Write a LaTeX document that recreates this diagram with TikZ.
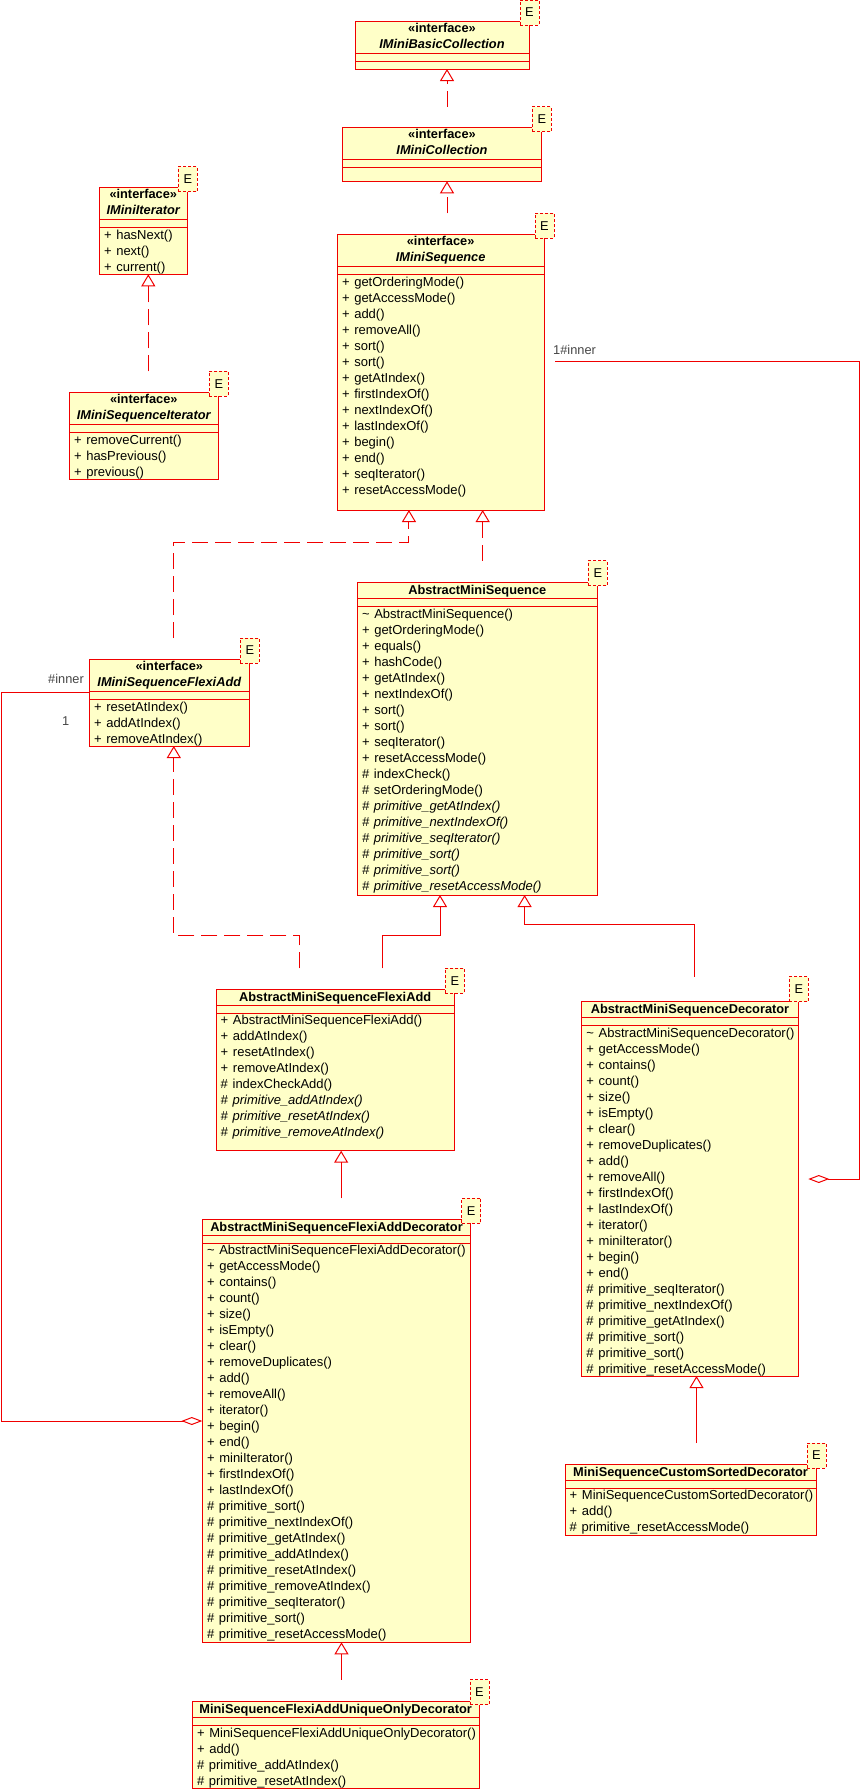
\documentclass[tikz,border=0pt]{standalone}
\usepackage{fontspec}
\setmainfont{Liberation Sans}
\newfontfamily\methfamily[WordSpace=1.3]{Liberation Sans}
\usepackage{tikz}
\usetikzlibrary{positioning,arrows.meta}
\usepackage{xcolor}

\definecolor{umlred}{RGB}{240,0,0}
\definecolor{umlfill}{RGB}{255,255,200}
\definecolor{lblgray}{RGB}{70,70,70}

\tikzset{
  cls/.style={draw=umlred, fill=umlfill, line width=1pt, anchor=north west, inner sep=0pt, outer sep=0pt},
  etag/.style={draw=umlred, fill=umlfill, line width=1pt, dash pattern=on 3pt off 2pt, anchor=south west,
    minimum width=19pt, minimum height=25pt, inner sep=0pt, outer sep=0pt, font=\fontsize{12.8}{15}\selectfont},
  sepline/.style={draw=umlred, line width=1pt},
  stereo/.style={anchor=base, inner sep=0pt, font=\fontsize{12.8}{15}\selectfont\bfseries},
  iname/.style={anchor=base, inner sep=0pt, font=\fontsize{12.8}{15}\selectfont\bfseries\itshape},
  cname/.style={anchor=base, inner sep=0pt, font=\fontsize{12.8}{15}\selectfont\bfseries},
  meth/.style={anchor=base west, inner sep=0pt, font=\methfamily\fontsize{13}{15}\selectfont},
  lbl/.style={anchor=base west, inner sep=0pt, text=lblgray, font=\fontsize{12.8}{15}\selectfont},
  realize/.style={draw=umlred, line width=1pt, dash pattern=on 16pt off 7pt, -{Triangle[open,length=12pt,width=14pt]}},
  inherit/.style={draw=umlred, line width=1pt, -{Triangle[open,length=12pt,width=14pt]}},
  aggr/.style={draw=umlred, line width=1pt, -{Diamond[open,length=21pt,width=8pt]}}
}

\begin{document}
\begin{tikzpicture}[x=1pt,y=-1pt]
\useasboundingbox (0,0) rectangle (861,1789);

% IMiniBasicCollection
\node[cls, minimum width=174pt, minimum height=48pt] (basic) at (355,21) {};
\draw[sepline] ([yshift=-32pt]basic.north west) -- ([yshift=-32pt]basic.north east);
\draw[sepline] ([yshift=-40pt]basic.north west) -- ([yshift=-40pt]basic.north east);
\node[etag] (basicE) at ([xshift=-9pt,yshift=-4pt]basic.north east) {E};
\node[stereo] (basic-st) at ([yshift=-11pt]basic.north) {«interface»};
\node[iname] (basic-nm) at ([yshift=-27pt]basic.north) {IMiniBasicCollection};

% IMiniCollection
\node[cls, minimum width=198.6pt, minimum height=53.6pt] (coll) at (342.7,127.7) {};
\draw[sepline] ([yshift=-32pt]coll.north west) -- ([yshift=-32pt]coll.north east);
\draw[sepline] ([yshift=-40pt]coll.north west) -- ([yshift=-40pt]coll.north east);
\node[etag] (collE) at ([xshift=-9pt,yshift=-4pt]coll.north east) {E};
\node[stereo] (coll-st) at ([yshift=-11pt]coll.north) {«interface»};
\node[iname] (coll-nm) at ([yshift=-27pt]coll.north) {IMiniCollection};

% IMiniIterator
\node[cls, minimum width=88pt, minimum height=86.6pt] (iter) at (99.3,187.7) {};
\draw[sepline] ([yshift=-32pt]iter.north west) -- ([yshift=-32pt]iter.north east);
\draw[sepline] ([yshift=-40pt]iter.north west) -- ([yshift=-40pt]iter.north east);
\node[etag] (iterE) at ([xshift=-9pt,yshift=-4pt]iter.north east) {E};
\node[stereo] (iter-st) at ([yshift=-11pt]iter.north) {«interface»};
\node[iname] (iter-nm) at ([yshift=-27pt]iter.north) {IMiniIterator};
\foreach \m [count=\i] in {+ hasNext(), + next(), + current()}
  \node[meth] (iter-\i) at ([xshift=4.5pt,yshift=-36pt-16pt*\i]iter.north west) {\m};

% IMiniSequenceIterator
\node[cls, minimum width=149pt, minimum height=87pt] (seqiter) at (69.3,392.3) {};
\draw[sepline] ([yshift=-32pt]seqiter.north west) -- ([yshift=-32pt]seqiter.north east);
\draw[sepline] ([yshift=-40pt]seqiter.north west) -- ([yshift=-40pt]seqiter.north east);
\node[etag] (seqiterE) at ([xshift=-9pt,yshift=-4pt]seqiter.north east) {E};
\node[stereo] (seqiter-st) at ([yshift=-11pt]seqiter.north) {«interface»};
\node[iname] (seqiter-nm) at ([yshift=-27pt]seqiter.north) {IMiniSequenceIterator};
\foreach \m [count=\i] in {+ removeCurrent(), + hasPrevious(), + previous()}
  \node[meth] (seqiter-\i) at ([xshift=4.5pt,yshift=-36pt-16pt*\i]seqiter.north west) {\m};

% IMiniSequence
\node[cls, minimum width=206.7pt, minimum height=275.7pt] (seq) at (337.3,234.3) {};
\draw[sepline] ([yshift=-32pt]seq.north west) -- ([yshift=-32pt]seq.north east);
\draw[sepline] ([yshift=-40pt]seq.north west) -- ([yshift=-40pt]seq.north east);
\node[etag] (seqE) at ([xshift=-9pt,yshift=-4pt]seq.north east) {E};
\node[stereo] (seq-st) at ([yshift=-11pt]seq.north) {«interface»};
\node[iname] (seq-nm) at ([yshift=-27pt]seq.north) {IMiniSequence};
\foreach \m [count=\i] in {+ getOrderingMode(), + getAccessMode(), + add(), + removeAll(), + sort(), + sort(),
    + getAtIndex(), + firstIndexOf(), + nextIndexOf(), + lastIndexOf(), + begin(), + end(), + seqIterator(),
    + resetAccessMode()}
  \node[meth] (seq-\i) at ([xshift=4.5pt,yshift=-36pt-16pt*\i]seq.north west) {\m};

% IMiniSequenceFlexiAdd
\node[cls, minimum width=160pt, minimum height=87pt] (flexi) at (89.3,659) {};
\draw[sepline] ([yshift=-32pt]flexi.north west) -- ([yshift=-32pt]flexi.north east);
\draw[sepline] ([yshift=-40pt]flexi.north west) -- ([yshift=-40pt]flexi.north east);
\node[etag] (flexiE) at ([xshift=-9pt,yshift=-4pt]flexi.north east) {E};
\node[stereo] (flexi-st) at ([yshift=-11pt]flexi.north) {«interface»};
\node[iname] (flexi-nm) at ([yshift=-27pt]flexi.north) {IMiniSequenceFlexiAdd};
\foreach \m [count=\i] in {+ resetAtIndex(), + addAtIndex(), + removeAtIndex()}
  \node[meth] (flexi-\i) at ([xshift=4.5pt,yshift=-36pt-16pt*\i]flexi.north west) {\m};

% AbstractMiniSequence
\node[cls, minimum width=240pt, minimum height=312.3pt] (abs) at (357.3,582.7) {};
\draw[sepline] ([yshift=-16pt]abs.north west) -- ([yshift=-16pt]abs.north east);
\draw[sepline] ([yshift=-24pt]abs.north west) -- ([yshift=-24pt]abs.north east);
\node[etag] (absE) at ([xshift=-9pt,yshift=-3pt]abs.north east) {E};
\node[cname] (abs-nm) at ([yshift=-12pt]abs.north) {AbstractMiniSequence};
\foreach \m [count=\i] in {\textasciitilde{} AbstractMiniSequence(), + getOrderingMode(), + equals(), + hashCode(),
    + getAtIndex(), + nextIndexOf(), + sort(), + sort(), + seqIterator(), + resetAccessMode(), \# indexCheck(),
    \# setOrderingMode(), {\itshape\# primitive\_getAtIndex()}, {\itshape\# primitive\_nextIndexOf()},
    {\itshape\# primitive\_seqIterator()}, {\itshape\# primitive\_sort()}, {\itshape\# primitive\_sort()},
    {\itshape\# primitive\_resetAccessMode()}}
  \node[meth] (abs-\i) at ([xshift=4.5pt,yshift=-19.5pt-16pt*\i]abs.north west) {\m};

% AbstractMiniSequenceFlexiAdd
\node[cls, minimum width=238.3pt, minimum height=161.4pt] (absflexi) at (216,989.3) {};
\draw[sepline] ([yshift=-16pt]absflexi.north west) -- ([yshift=-16pt]absflexi.north east);
\draw[sepline] ([yshift=-24pt]absflexi.north west) -- ([yshift=-24pt]absflexi.north east);
\node[etag] (absflexiE) at ([xshift=-9pt,yshift=-4pt]absflexi.north east) {E};
\node[cname] (absflexi-nm) at ([yshift=-12pt]absflexi.north) {AbstractMiniSequenceFlexiAdd};
\foreach \m [count=\i] in {+ AbstractMiniSequenceFlexiAdd(), + addAtIndex(), + resetAtIndex(), + removeAtIndex(),
    \# indexCheckAdd(), {\itshape\# primitive\_addAtIndex()}, {\itshape\# primitive\_resetAtIndex()},
    {\itshape\# primitive\_removeAtIndex()}}
  \node[meth] (absflexi-\i) at ([xshift=4.5pt,yshift=-19.5pt-16pt*\i]absflexi.north west) {\m};

% AbstractMiniSequenceDecorator
\node[cls, minimum width=216.6pt, minimum height=374.3pt] (absdec) at (581.7,1001.7) {};
\draw[sepline] ([yshift=-16pt]absdec.north west) -- ([yshift=-16pt]absdec.north east);
\draw[sepline] ([yshift=-24pt]absdec.north west) -- ([yshift=-24pt]absdec.north east);
\node[etag] (absdecE) at ([xshift=-9pt,yshift=0pt]absdec.north east) {E};
\node[cname] (absdec-nm) at ([yshift=-12pt]absdec.north) {AbstractMiniSequenceDecorator};
\foreach \m [count=\i] in {\textasciitilde{} AbstractMiniSequenceDecorator(), + getAccessMode(), + contains(),
    + count(), + size(), + isEmpty(), + clear(), + removeDuplicates(), + add(), + removeAll(), + firstIndexOf(),
    + lastIndexOf(), + iterator(), + miniIterator(), + begin(), + end(), \# primitive\_seqIterator(),
    \# primitive\_nextIndexOf(), \# primitive\_getAtIndex(), \# primitive\_sort(), \# primitive\_sort(),
    \# primitive\_resetAccessMode()}
  \node[meth] (absdec-\i) at ([xshift=4.5pt,yshift=-19.5pt-16pt*\i]absdec.north west) {\m};

% AbstractMiniSequenceFlexiAddDecorator
\node[cls, minimum width=268.4pt, minimum height=423pt] (flexidec) at (202.3,1219.3) {};
\draw[sepline] ([yshift=-16pt]flexidec.north west) -- ([yshift=-16pt]flexidec.north east);
\draw[sepline] ([yshift=-24pt]flexidec.north west) -- ([yshift=-24pt]flexidec.north east);
\node[etag] (flexidecE) at ([xshift=-9pt,yshift=-4pt]flexidec.north east) {E};
\node[cname] (flexidec-nm) at ([yshift=-12pt]flexidec.north) {AbstractMiniSequenceFlexiAddDecorator};
\foreach \m [count=\i] in {\textasciitilde{} AbstractMiniSequenceFlexiAddDecorator(), + getAccessMode(),
    + contains(), + count(), + size(), + isEmpty(), + clear(), + removeDuplicates(), + add(), + removeAll(),
    + iterator(), + begin(), + end(), + miniIterator(), + firstIndexOf(), + lastIndexOf(), \# primitive\_sort(),
    \# primitive\_nextIndexOf(), \# primitive\_getAtIndex(), \# primitive\_addAtIndex(),
    \# primitive\_resetAtIndex(), \# primitive\_removeAtIndex(), \# primitive\_seqIterator(),
    \# primitive\_sort(), \# primitive\_resetAccessMode()}
  \node[meth] (flexidec-\i) at ([xshift=4.5pt,yshift=-19.5pt-16pt*\i]flexidec.north west) {\m};

% MiniSequenceCustomSortedDecorator
\node[cls, minimum width=251pt, minimum height=71pt] (custom) at (565,1464) {};
\draw[sepline] ([yshift=-16pt]custom.north west) -- ([yshift=-16pt]custom.north east);
\draw[sepline] ([yshift=-24pt]custom.north west) -- ([yshift=-24pt]custom.north east);
\node[etag] (customE) at ([xshift=-9pt,yshift=-4pt]custom.north east) {E};
\node[cname] (custom-nm) at ([yshift=-12pt]custom.north) {MiniSequenceCustomSortedDecorator};
\foreach \m [count=\i] in {+ MiniSequenceCustomSortedDecorator(), + add(), \# primitive\_resetAccessMode()}
  \node[meth] (custom-\i) at ([xshift=4.5pt,yshift=-19.5pt-16pt*\i]custom.north west) {\m};

% MiniSequenceFlexiAddUniqueOnlyDecorator
\node[cls, minimum width=286.7pt, minimum height=86.3pt] (unique) at (192.3,1701.7) {};
\draw[sepline] ([yshift=-16pt]unique.north west) -- ([yshift=-16pt]unique.north east);
\draw[sepline] ([yshift=-24pt]unique.north west) -- ([yshift=-24pt]unique.north east);
\node[etag] (uniqueE) at ([xshift=-9pt,yshift=-3pt]unique.north east) {E};
\node[cname] (unique-nm) at ([yshift=-12pt]unique.north) {MiniSequenceFlexiAddUniqueOnlyDecorator};
\foreach \m [count=\i] in {+ MiniSequenceFlexiAddUniqueOnlyDecorator(), + add(), \# primitive\_addAtIndex(),
    \# primitive\_resetAtIndex()}
  \node[meth] (unique-\i) at ([xshift=4.5pt,yshift=-19.5pt-16pt*\i]unique.north west) {\m};

% realizations
\coordinate (t1) at ([xshift=5pt]basic.south);
\draw[realize] (t1 |- collE.north) -- (t1);
\coordinate (t2) at ([xshift=5pt]coll.south);
\draw[realize] (t2 |- seqE.north) -- (t2);
\coordinate (t3) at ([xshift=5pt]iter.south);
\draw[realize] (t3 |- seqiterE.north) -- (t3);
\coordinate (t4) at ([xshift=42pt]seq.south);
\draw[realize] (t4 |- absE.north) -- (t4);
\coordinate (t5) at ([xshift=-31.7pt]seq.south);
\coordinate (m5) at (173,542);
\draw[realize] (flexiE.north -| m5) -- (m5) -| (t5);
\coordinate (t6) at ([xshift=4.5pt]flexi.south);
\coordinate (m6) at (299,935);
\draw[realize] (absflexiE.north -| m6) -- (m6) -| (t6);

% generalizations
\coordinate (t7) at ([xshift=-37.3pt]abs.south);
\coordinate (m7) at (382,935);
\draw[inherit] (absflexiE.north -| m7) -- (m7) -| (t7);
\coordinate (t8) at ([xshift=47.3pt]abs.south);
\coordinate (m8) at (694,924);
\draw[inherit] (absdecE.north -| m8) -- (m8) -| (t8);
\coordinate (t9) at ([xshift=6pt]absflexi.south);
\draw[inherit] (t9 |- flexidecE.north) -- (t9);
\coordinate (t10) at ([xshift=5pt]flexidec.south);
\draw[inherit] (t10 |- uniqueE.north) -- (t10);
\coordinate (t11) at ([xshift=6.5pt]absdec.south);
\draw[inherit] (t11 |- customE.north) -- (t11);

% aggregations
\coordinate (a1) at (859,361);
\coordinate (a2) at (0,1179);
\draw[aggr, shorten <=11pt] (seq.east |- a1) -- (a1) |- (absdecE.east |- a2);
\node[lbl] (inner1) at (553,354) {1\#inner};
\coordinate (b1) at (1,692);
\coordinate (b2) at (0,1421);
\draw[aggr] (flexi.west |- b1) -- (b1) |- (flexidec.west |- b2);
\node[lbl] (inner2) at (48,683.5) {\#inner};
\node[lbl] (mult2) at (62,725) {1};

\end{tikzpicture}
\end{document}
